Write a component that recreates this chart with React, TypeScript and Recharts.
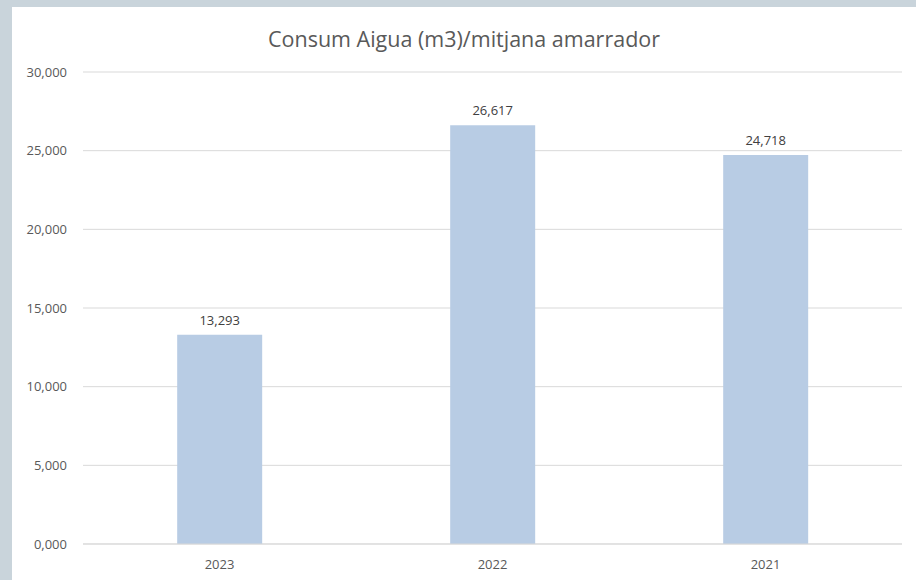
import { BarChart, Bar, XAxis, YAxis, CartesianGrid, LabelList } from "recharts";

const years = ["2023", "2022", "2021"];
const consum = [13.293, 26.617, 24.718];
const yTicks = [0, 5, 10, 15, 20, 25, 30];

const data = years.map((y, i) => ({ year: y, value: consum[i] }));

const fmt = (v: number) => v.toFixed(3).replace(".", ",");
const font = "'Open Sans', sans-serif";

export default function App() {
  return (
    <div style={{ position: "fixed", left: 0, top: 0, width: 916, height: 580, background: "#c9d4db", overflow: "hidden" }}>
      <div style={{ position: "absolute", left: 12, top: 7, width: 904, height: 573, background: "#fff" }}>
        <div
          style={{
            position: "absolute",
            top: 17,
            width: "100%",
            textAlign: "center",
            fontFamily: font,
            fontSize: 21.5,
            color: "#595959",
          }}
        >
          Consum Aigua (m3)/mitjana amarrador
        </div>
        <BarChart
          width={904}
          height={573}
          data={data}
          margin={{ top: 65, right: 14, bottom: 6, left: 0 }}
          barCategoryGap="34.5%"
        >
          <CartesianGrid vertical={false} stroke="#d9d9d9" />
          <XAxis
            dataKey="year"
            axisLine={{ stroke: "#d9d9d9" }}
            tickLine={false}
            tick={{ fontFamily: font, fontSize: 13, fill: "#595959" }}
            tickMargin={10}
            height={30}
          />
          <YAxis
            domain={[0, 30]}
            ticks={yTicks}
            tickFormatter={fmt}
            axisLine={false}
            tickLine={false}
            tick={{ fontFamily: font, fontSize: 13, fill: "#595959" }}
            tickMargin={10}
            width={71}
          />
          <Bar dataKey="value" fill="#b8cce4" isAnimationActive={false}>
            <LabelList
              dataKey="value"
              position="top"
              offset={10}
              formatter={(v: any) => fmt(Number(v))}
              style={{ fontFamily: font, fontSize: 13, fill: "#404040" }}
            />
          </Bar>
        </BarChart>
      </div>
    </div>
  );
}
